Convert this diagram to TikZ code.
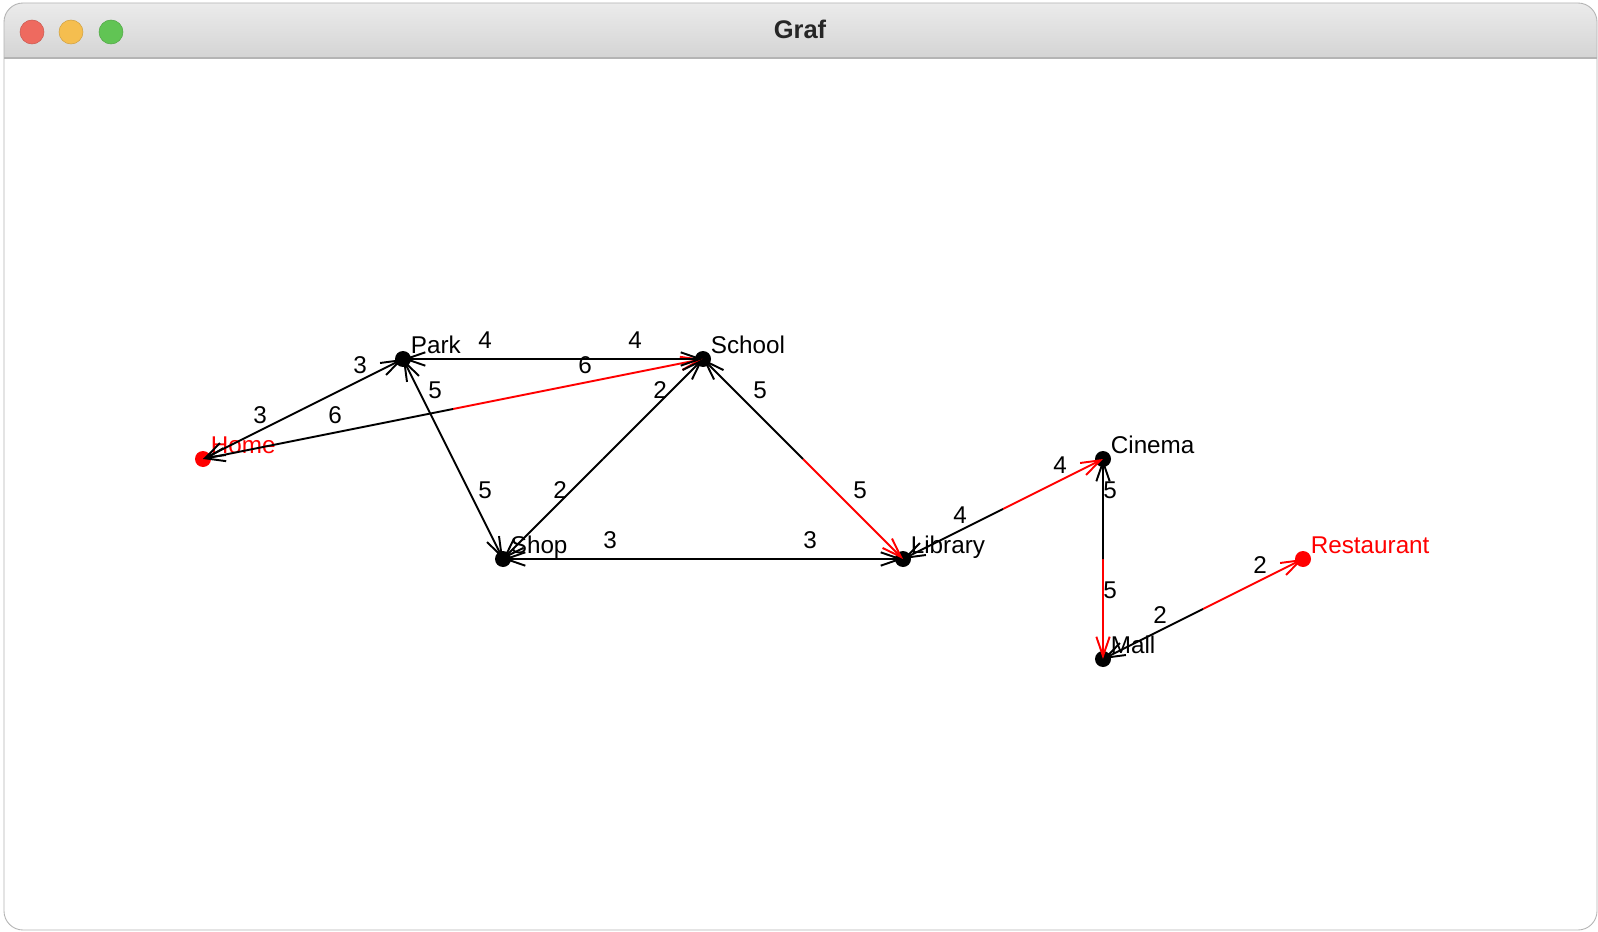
\documentclass[tikz,border=0pt]{standalone}
\usepackage{fontspec}
\setmainfont{Liberation Sans}
\usetikzlibrary{calc, arrows.meta}

\definecolor{barTop}{HTML}{EBEBEB}
\definecolor{barBottom}{HTML}{D4D4D4}
\definecolor{barLine}{HTML}{B4B4B4}
\definecolor{titleGray}{HTML}{262626}
\definecolor{lightRed}{HTML}{EE6A5F}
\definecolor{lightYellow}{HTML}{F5BE4F}
\definecolor{lightGreen}{HTML}{61C454}

\tikzset{
  link/.style = {line width = 1.1pt, line join = round, -{Straight Barb[length = 11pt, width = 7.6pt]}},
  wgt/.style = {xshift = 0.14cm, yshift = 0.37cm, text = black, inner sep = 0pt, font = \fontsize{13.8}{16}\selectfont},
  lbl/.style = {anchor = base west, xshift = 0.15cm, yshift = 0.12cm, inner sep = 0pt, font = \fontsize{13.8}{16}\selectfont}
}

\begin{document}
\begin{tikzpicture}[x = 0.02cm, y = -0.02cm]
\useasboundingbox (0,0) rectangle (1598,932);
\fill[white] (0,0) rectangle (1598,932);
\fill[white, rounded corners = 0.38cm] (4,3) rectangle (1597,930);
\begin{scope}
\clip[rounded corners = 0.38cm] (4,3) rectangle (1597,930);
\shade[top color = barTop, bottom color = barBottom] (4,3) rectangle (1597,58);
\draw[barLine, line width = 0.6pt] (4,58) -- (1597,58);
\end{scope}
\draw[barLine, line width = 0.5pt, rounded corners = 0.38cm] (4,3) rectangle (1597,930);
\filldraw[fill = lightRed, draw = lightRed!85!black, line width = 0.3pt] (32,32) circle (12);
\filldraw[fill = lightYellow, draw = lightYellow!85!black, line width = 0.3pt] (71,32) circle (12);
\filldraw[fill = lightGreen, draw = lightGreen!85!black, line width = 0.3pt] (111,32) circle (12);
\node[anchor = base, inner sep = 0pt, text = titleGray, font = \bfseries\fontsize{14.5}{17}\selectfont] (title) at (800,39) {Graf};

\coordinate (home) at (203,459);
\coordinate (park) at (403,359);
\coordinate (school) at (703,359);
\coordinate (shop) at (503,559);
\coordinate (library) at (903,559);
\coordinate (cinema) at (1103,459);
\coordinate (mall) at (1103,659);
\coordinate (restaurant) at (1303,559);

\fill[red] (home) circle (8);
\fill (park) circle (8);
\fill (school) circle (8);
\fill (shop) circle (8);
\fill (library) circle (8);
\fill (cinema) circle (8);
\fill (mall) circle (8);
\fill[red] (restaurant) circle (8);

\node[lbl, red] (homeL) at (home) {Home};
\node[lbl] (parkL) at (park) {Park};
\node[lbl] (schoolL) at (school) {School};
\node[lbl] (shopL) at (shop) {Shop};
\node[lbl] (libraryL) at (library) {Library};
\node[lbl] (cinemaL) at (cinema) {Cinema};
\node[lbl] (mallL) at (mall) {Mall};
\node[lbl, red] (restaurantL) at (restaurant) {Restaurant};

\draw[link] ($(home)!0.5!(park)$) -- node[wgt] (hp) {3} (park);
\draw[link] ($(park)!0.5!(home)$) -- node[wgt] (ph) {3} (home);
\draw[link, red] ($(home)!0.5!(school)$) -- node[wgt] (hs) {6} (school);
\draw[link] ($(school)!0.5!(home)$) -- node[wgt] (sh) {6} (home);
\draw[link] ($(park)!0.5!(school)$) -- node[wgt] (ps) {4} (school);
\draw[link] ($(school)!0.5!(park)$) -- node[wgt] (sp) {4} (park);
\draw[link] ($(park)!0.5!(shop)$) -- node[wgt] (pk) {5} (shop);
\draw[link] ($(shop)!0.5!(park)$) -- node[wgt] (kp) {5} (park);
\draw[link] ($(shop)!0.5!(school)$) -- node[wgt] (ks) {2} (school);
\draw[link] ($(school)!0.5!(shop)$) -- node[wgt] (sk) {2} (shop);
\draw[link] ($(shop)!0.5!(library)$) -- node[wgt] (kl) {3} (library);
\draw[link] ($(library)!0.5!(shop)$) -- node[wgt] (lk) {3} (shop);
\draw[link, red] ($(school)!0.5!(library)$) -- node[wgt] (sl) {5} (library);
\draw[link] ($(library)!0.5!(school)$) -- node[wgt] (ls) {5} (school);
\draw[link, red] ($(library)!0.5!(cinema)$) -- node[wgt] (lc) {4} (cinema);
\draw[link] ($(cinema)!0.5!(library)$) -- node[wgt] (cl) {4} (library);
\draw[link, red] ($(cinema)!0.5!(mall)$) -- node[wgt] (cm) {5} (mall);
\draw[link] ($(mall)!0.5!(cinema)$) -- node[wgt] (mc) {5} (cinema);
\draw[link, red] ($(mall)!0.5!(restaurant)$) -- node[wgt] (mr) {2} (restaurant);
\draw[link] ($(restaurant)!0.5!(mall)$) -- node[wgt] (rm) {2} (mall);
\end{tikzpicture}
\end{document}
